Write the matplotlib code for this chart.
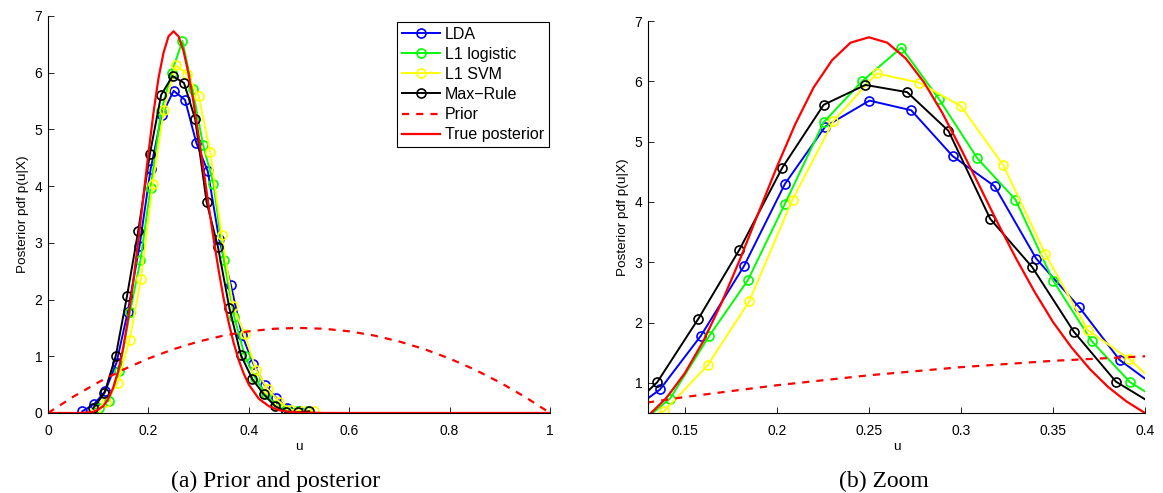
import matplotlib
matplotlib.use("Agg")
import matplotlib.pyplot as plt
from matplotlib.ticker import FuncFormatter

# Estimated posterior pdf values at each grid point, per method
lda_u = [0.0684, 0.0911, 0.1138, 0.1365, 0.1587, 0.1822, 0.2044, 0.2263, 0.2503, 0.273,
         0.2955, 0.3183, 0.3409, 0.3644, 0.3862, 0.4089, 0.4316, 0.4543, 0.477, 0.4997]
lda_p = [0.03, 0.15, 0.38, 0.89, 1.78, 2.94, 4.30, 5.25, 5.68, 5.52,
         4.76, 4.26, 3.06, 2.25, 1.38, 0.87, 0.49, 0.27, 0.08, 0.04]

log_u = [0.1006, 0.1213, 0.142, 0.1633, 0.1842, 0.2044, 0.2254, 0.2463, 0.2677, 0.288,
         0.309, 0.3296, 0.3502, 0.3711, 0.3919, 0.4126, 0.4333, 0.454, 0.4747, 0.4954, 0.516]
log_p = [0.08, 0.22, 0.74, 1.78, 2.70, 3.97, 5.32, 6.00, 6.56, 5.71,
         4.72, 4.04, 2.69, 1.69, 1.01, 0.62, 0.33, 0.14, 0.05, 0.03, 0.04]

svm_u = [0.0927, 0.1157, 0.1387, 0.1624, 0.1851, 0.2085, 0.2307, 0.2542, 0.2771, 0.2999,
         0.323, 0.3458, 0.3688, 0.3915, 0.4145, 0.4375, 0.4605, 0.4835, 0.5065, 0.5295]
svm_p = [0.03, 0.20, 0.53, 1.29, 2.36, 4.04, 5.34, 6.13, 5.98, 5.59,
         4.61, 3.14, 1.88, 1.39, 0.76, 0.42, 0.20, 0.06, 0.03, 0.04]

max_u = [0.0896, 0.1123, 0.135, 0.1573, 0.1797, 0.203, 0.2254, 0.2481, 0.2708, 0.2932,
         0.3159, 0.3387, 0.3613, 0.3842, 0.4069, 0.4296, 0.4523, 0.475, 0.4977, 0.5204]
max_p = [0.08, 0.35, 1.01, 2.06, 3.21, 4.57, 5.61, 5.94, 5.82, 5.18,
         3.72, 2.92, 1.85, 1.02, 0.60, 0.33, 0.12, 0.02, 0.01, 0.03]

prior_u = [0.0, 0.05, 0.1, 0.15, 0.2, 0.25, 0.3, 0.35, 0.4, 0.45, 0.5,
           0.55, 0.6, 0.65, 0.7, 0.75, 0.8, 0.85, 0.9, 0.95, 1.0]
prior_p = [0.0, 0.285, 0.54, 0.765, 0.96, 1.125, 1.26, 1.365, 1.44, 1.485, 1.5,
           1.485, 1.44, 1.365, 1.26, 1.125, 0.96, 0.765, 0.54, 0.285, 0.0]

true_u = [0.0, 0.06, 0.08, 0.09, 0.10, 0.11, 0.12, 0.13, 0.14, 0.15, 0.16, 0.17, 0.18,
          0.19, 0.20, 0.21, 0.22, 0.23, 0.24, 0.25, 0.26, 0.27, 0.28, 0.29, 0.30,
          0.31, 0.32, 0.33, 0.34, 0.35, 0.36, 0.37, 0.38, 0.39, 0.40, 0.42, 0.44,
          0.46, 0.48, 0.50, 0.55, 1.0]
true_p = [0.0, 0.0, 0.01, 0.02, 0.06, 0.12, 0.25, 0.45, 0.75, 1.16, 1.69, 2.33, 3.05,
          3.82, 4.58, 5.29, 5.90, 6.35, 6.64, 6.73, 6.64, 6.38, 5.98, 5.47, 4.88,
          4.27, 3.65, 3.06, 2.51, 2.01, 1.59, 1.23, 0.93, 0.69, 0.50, 0.25, 0.12,
          0.05, 0.02, 0.01, 0.0, 0.0]

labels = ["LDA", "L1 logistic", "L1 SVM", "Max\u2212Rule", "Prior", "True posterior"]

plt.rcParams["font.family"] = ["Liberation Sans", "DejaVu Sans"]
plt.rcParams["font.size"] = 10

fig = plt.figure(figsize=(11.63, 4.93), dpi=100)
ax1 = fig.add_axes([0.0413, 0.1623, 0.4316, 0.8053])
ax2 = fig.add_axes([0.5572, 0.1623, 0.4273, 0.7951])

fmt = FuncFormatter(lambda v, pos: f"{v:g}")


def draw(ax):
    mk = dict(marker="o", markerfacecolor="none", markersize=6.5, markeredgewidth=1.2, lw=1.4)
    ax.plot(lda_u, lda_p, color=(0, 0, 1), label=labels[0], **mk)
    ax.plot(log_u, log_p, color=(0, 1, 0), label=labels[1], **mk)
    ax.plot(svm_u, svm_p, color=(1, 1, 0), label=labels[2], **mk)
    ax.plot(max_u, max_p, color=(0, 0, 0), label=labels[3], **mk)
    ax.plot(prior_u, prior_p, color=(1, 0, 0), ls=(0, (3.2, 3.2)), lw=1.6, label=labels[4])
    ax.plot(true_u, true_p, color=(1, 0, 0), lw=1.6, label=labels[5])
    for s in ("top", "right"):
        ax.spines[s].set_visible(False)
    for s in ("left", "bottom"):
        ax.spines[s].set_linewidth(0.8)
    ax.tick_params(direction="in", length=4, width=0.6, labelsize=10)
    ax.tick_params(axis="x", pad=8)
    ax.tick_params(axis="y", pad=4)
    ax.xaxis.set_major_formatter(fmt)
    ax.yaxis.set_major_formatter(fmt)
    ax.set_xlabel("u", fontsize=9.7, labelpad=2)
    ax.set_ylabel("Posterior pdf p(u|X)", fontsize=9.7, labelpad=4)


draw(ax1)
ax1.set_xlim(0, 1)
ax1.set_ylim(0, 7)
ax1.set_xticks([0, 0.2, 0.4, 0.6, 0.8, 1.0])
ax1.set_yticks(range(0, 8))
leg = ax1.legend(loc="upper right", bbox_to_anchor=(0.9975, 0.985), fontsize=11.5,
                 handlelength=2.4, handletextpad=0.3, labelspacing=0.32,
                 borderpad=0.3, borderaxespad=0.0, fancybox=False, framealpha=1)
leg.get_frame().set_edgecolor("black")
leg.get_frame().set_linewidth(0.8)

draw(ax2)
ax2.set_xlim(0.13, 0.4)
ax2.set_ylim(0.5, 7)
ax2.set_xticks([0.15, 0.2, 0.25, 0.3, 0.35, 0.4])
ax2.set_yticks(range(1, 8))

cap = dict(ha="center", va="center", fontsize=17, family=["Liberation Serif", "DejaVu Serif"])
fig.text(276 / 1163, 1 - 481 / 493, "(a) Prior and posterior", **cap)
fig.text(884 / 1163, 1 - 481 / 493, "(b) Zoom", **cap)

fig.savefig("out.png", dpi=100)
